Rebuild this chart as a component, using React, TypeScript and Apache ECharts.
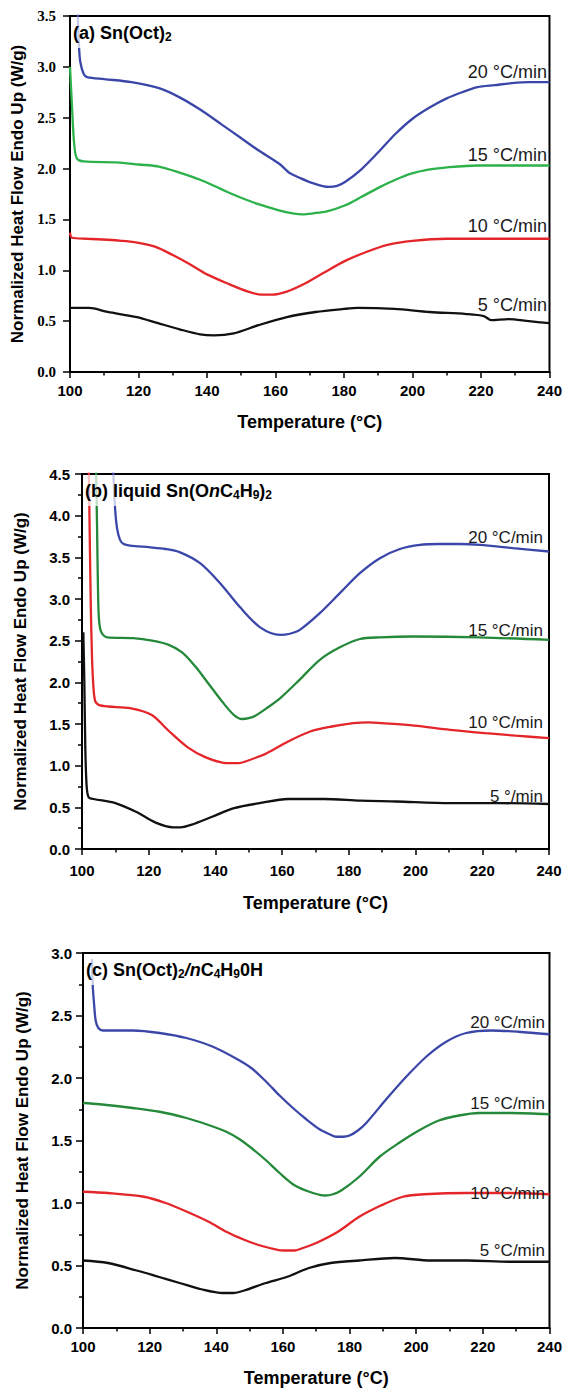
import React, { useEffect, useRef } from "react";
import * as echarts from "echarts";

// ---------- data (Temperature °C, Normalized heat flow W/g) ----------
const X_MIN = 100;
const X_MAX = 240;
const X_STEP = 20;
const Y_MAX_A = 3.5;
const Y_MAX_B = 4.5;
const Y_MAX_C = 3.0;
const Y_STEP = 0.5;

// (a) Sn(Oct)2
const A20 = [[102.2, 3.6], [102.6, 3.22], [103, 3.05], [104, 2.93], [105, 2.9], [110, 2.88], [118, 2.85], [126, 2.79], [132, 2.7], [138, 2.58], [144, 2.44], [149.5, 2.31], [155, 2.18], [161, 2.05], [163, 1.99], [164, 1.96], [167, 1.91], [170.6, 1.86], [175.5, 1.82], [178, 1.83], [180.4, 1.87], [185, 1.99], [190, 2.16], [195, 2.34], [200, 2.49], [205, 2.6], [210, 2.69], [214.5, 2.75], [219, 2.8], [224, 2.82], [229, 2.84], [234, 2.85], [240, 2.85]];
const A15 = [[100, 3.0], [100.6, 2.6], [101.2, 2.25], [102, 2.1], [104, 2.07], [113.6, 2.06], [120, 2.04], [126, 2.02], [132, 1.96], [138, 1.89], [144, 1.8], [149.4, 1.72], [155, 1.65], [161, 1.59], [165, 1.56], [168, 1.55], [171, 1.56], [175, 1.58], [180.4, 1.64], [185, 1.72], [190, 1.81], [195, 1.89], [199.6, 1.95], [204.6, 1.99], [209.5, 2.01], [219, 2.03], [240, 2.03]];
const A10 = [[100, 1.37], [100.6, 1.32], [105, 1.31], [111, 1.3], [115, 1.29], [120, 1.27], [125, 1.23], [130, 1.15], [135, 1.06], [140, 0.96], [146, 0.87], [152, 0.79], [156, 0.76], [159, 0.76], [163.3, 0.79], [168.6, 0.87], [173.8, 0.97], [180.2, 1.09], [186.5, 1.18], [192.7, 1.25], [200, 1.29], [210, 1.31], [225, 1.31], [240, 1.31]];
const A5 = [[100, 0.63], [105.6, 0.63], [111, 0.59], [119.5, 0.54], [125.7, 0.48], [132, 0.42], [138, 0.37], [142, 0.36], [147.8, 0.38], [155, 0.46], [163.3, 0.54], [171.7, 0.59], [180, 0.62], [184, 0.63], [194.7, 0.62], [205, 0.59], [215.7, 0.57], [220.8, 0.55], [223, 0.51], [228, 0.52], [234, 0.5], [240, 0.48]];

// (b) liquid Sn(OnC4H9)2
const B20 = [[109.3, 4.6], [109.9, 4.1], [110.5, 3.85], [111.4, 3.71], [112.5, 3.66], [114.4, 3.64], [120.4, 3.62], [125, 3.6], [129.4, 3.56], [135.4, 3.43], [141.4, 3.19], [147.4, 2.9], [153.4, 2.66], [159.4, 2.57], [162, 2.58], [165.3, 2.63], [171.3, 2.83], [177.3, 3.07], [183.3, 3.31], [189.3, 3.49], [195.3, 3.6], [201.3, 3.65], [207.3, 3.66], [213, 3.66], [219.3, 3.65], [229.2, 3.61], [240, 3.57]];
const B15 = [[104.2, 4.6], [104.5, 3.9], [104.8, 3.1], [105.1, 2.75], [105.8, 2.6], [107.5, 2.54], [115.3, 2.53], [121, 2.5], [126, 2.45], [130, 2.36], [134, 2.19], [138, 1.98], [142, 1.77], [145.5, 1.61], [148, 1.56], [150, 1.57], [152, 1.6], [155.4, 1.69], [159.7, 1.82], [165.2, 2.03], [171.3, 2.27], [177.3, 2.42], [183.3, 2.52], [189.3, 2.54], [199.2, 2.55], [219.3, 2.54], [240, 2.51]];
const B10 = [[102.0, 4.6], [102.2, 4.1], [102.6, 3.0], [103, 2.3], [103.5, 1.9], [104, 1.77], [105, 1.73], [107.8, 1.71], [114.4, 1.69], [120.8, 1.61], [126.2, 1.41], [131.7, 1.22], [137.1, 1.1], [143.6, 1.03], [147, 1.03], [149, 1.05], [155.4, 1.15], [161.8, 1.29], [168.4, 1.41], [174.9, 1.47], [181.3, 1.51], [186, 1.52], [189.9, 1.51], [199.6, 1.48], [210.3, 1.43], [221, 1.39], [230, 1.36], [240, 1.33]];
const B5 = [[100.4, 2.6], [100.7, 2.0], [101.0, 1.2], [101.4, 0.75], [102, 0.62], [103.5, 0.6], [110, 0.55], [116.5, 0.44], [121.9, 0.32], [127.3, 0.26], [129.5, 0.26], [132.7, 0.29], [139.2, 0.39], [145.6, 0.49], [153.2, 0.55], [161.8, 0.6], [172.6, 0.6], [183.4, 0.58], [194.2, 0.57], [210.3, 0.55], [225, 0.55], [240, 0.54]];

// (c) Sn(Oct)2/nC4H9OH
const C20 = [[102.7, 2.95], [102.9, 2.75], [103.3, 2.6], [103.8, 2.46], [104.6, 2.4], [106, 2.38], [115, 2.38], [123, 2.36], [131, 2.32], [139, 2.25], [147, 2.14], [151, 2.07], [155, 1.97], [159, 1.86], [163, 1.76], [167, 1.67], [171, 1.59], [174, 1.55], [176, 1.53], [178, 1.53], [180, 1.54], [182.5, 1.58], [185, 1.64], [191, 1.83], [197, 2.01], [203, 2.17], [209, 2.29], [215, 2.36], [222.6, 2.38], [230.7, 2.37], [240, 2.35]];
const C15 = [[100, 1.8], [105, 1.79], [115, 1.76], [123, 1.73], [131, 1.68], [137, 1.63], [143, 1.57], [147, 1.51], [151, 1.43], [155, 1.34], [159, 1.24], [163.6, 1.14], [169, 1.08], [172.7, 1.06], [175, 1.07], [177.5, 1.1], [182.9, 1.21], [189, 1.37], [194.8, 1.48], [200.8, 1.58], [206.8, 1.66], [212.8, 1.7], [218.8, 1.72], [228.6, 1.72], [240, 1.71]];
const C10 = [[100, 1.09], [107.5, 1.08], [118.3, 1.05], [124.8, 1.0], [131.2, 0.93], [137.7, 0.85], [143, 0.77], [148, 0.71], [152, 0.67], [156, 0.64], [160, 0.62], [163.6, 0.62], [166, 0.64], [170, 0.68], [176.5, 0.77], [182.9, 0.89], [189.4, 0.98], [196, 1.05], [202.4, 1.07], [215.4, 1.08], [228, 1.08], [240, 1.07]];
const C5 = [[100, 0.54], [107.5, 0.52], [116.1, 0.46], [122.6, 0.41], [129, 0.36], [135.5, 0.31], [141.9, 0.28], [145, 0.28], [148.4, 0.3], [154.9, 0.36], [161.3, 0.41], [167.8, 0.48], [174.3, 0.52], [182.9, 0.54], [193.6, 0.56], [204.4, 0.54], [215.4, 0.54], [228, 0.53], [240, 0.53]];

const LABELS_A = ["20 °C/min", "15 °C/min", "10 °C/min", "5 °C/min"];
const LABELS_B = ["20 °C/min", "15 °C/min", "10 °C/min", "5 °/min"];
const LABELS_C = ["20 °C/min", "15 °C/min", "10 °C/min", "5 °C/min"];

const X_NAME = "Temperature (°C)";
const Y_NAME = "Normalized Heat Flow Endo Up (W/g)";

// ---------- styling / layout ----------
const SANS = "'Liberation Sans', Arial, Helvetica, sans-serif";
const SERIF = "'Liberation Serif', 'Times New Roman', serif";
const BLUE = "#3a47a9";
const GREEN_A = "#2cb14b";
const GREEN = "#25893a";
const RED = "#e4252a";
const BLACK = "#111111";

const PANELS = [
  {
    grid: { left: 70, top: 16, width: 482, height: 356 },
    yMax: Y_MAX_A, yFont: SERIF, yMinor: false,
    xMargin: 11, xNameGap: 41, yMargin: 14, yNameGap: 39,
    series: [A20, A15, A10, A5], colors: [BLUE, GREEN_A, RED, BLACK],
    labels: LABELS_A, labelFont: 18, labelRight: 547, labelY: [72, 155, 226, 305],
  },
  {
    grid: { left: 82, top: 474, width: 467, height: 375 },
    yMax: Y_MAX_B, yFont: SANS, yMinor: true,
    xMargin: 14, xNameGap: 45, yMargin: 12, yNameGap: 53,
    series: [B20, B15, B10, B5], colors: [BLUE, GREEN, RED, BLACK],
    labels: LABELS_B, labelFont: 17, labelRight: 543, labelY: [537, 630, 722, 796],
  },
  {
    grid: { left: 83, top: 953, width: 468, height: 375 },
    yMax: Y_MAX_C, yFont: SANS, yMinor: true,
    xMargin: 11, xNameGap: 41, yMargin: 11, yNameGap: 52,
    series: [C20, C15, C10, C5], colors: [BLUE, GREEN, RED, BLACK],
    labels: LABELS_C, labelFont: 17, labelRight: 545, labelY: [1022, 1103, 1193, 1250],
  },
];

const T = { fontSize: 18, fontWeight: "bold", fontFamily: SANS, fill: "#000" };
const TI = { ...T, fontStyle: "italic" };
const S = { fontSize: 12, fontWeight: "bold", fontFamily: SANS, fill: "#000", padding: [9, 0, 0, 0] };

const TITLES = [
  "{t|(a) Sn(Oct)}{s|2}",
  "{t|(b) liquid Sn(O}{i|n}{t|C}{s|4}{t|H}{s|9}{t|)}{s|2}",
  "{t|(c) Sn(Oct)}{s|2}{i|/n}{t|C}{s|4}{t|H}{s|9}{t|0H}",
];

function buildOption() {
  const grid: any[] = [];
  const xAxis: any[] = [];
  const yAxis: any[] = [];
  const series: any[] = [];
  const graphic: any[] = [];

  PANELS.forEach((p, i) => {
    grid.push({
      ...p.grid,
      show: true,
      borderColor: "#000",
      borderWidth: 2,
      backgroundColor: "transparent",
      containLabel: false,
    });
    xAxis.push({
      gridIndex: i,
      type: "value",
      min: X_MIN,
      max: X_MAX,
      interval: X_STEP,
      axisLine: { show: true, onZero: false, lineStyle: { color: "#000", width: 2 } },
      axisTick: { show: true, inside: false, length: 6, lineStyle: { color: "#000", width: 1.5 } },
      minorTick: { show: true, splitNumber: 2, length: 3.5, lineStyle: { color: "#000", width: 1.5 } },
      splitLine: { show: false },
      minorSplitLine: { show: false },
      axisLabel: {
        margin: p.xMargin,
        fontSize: 15,
        fontWeight: "bold",
        fontFamily: SANS,
        color: "#000",
      },
      name: X_NAME,
      nameLocation: "middle",
      nameGap: p.xNameGap,
      nameTextStyle: { fontSize: 18, fontWeight: "bold", fontFamily: SANS, color: "#000" },
    });
    yAxis.push({
      gridIndex: i,
      type: "value",
      min: 0,
      max: p.yMax,
      interval: Y_STEP,
      axisLine: { show: true, onZero: false, lineStyle: { color: "#000", width: 2 } },
      axisTick: { show: true, inside: false, length: 7, lineStyle: { color: "#000", width: 1.5 } },
      minorTick: { show: p.yMinor, splitNumber: 2, length: 4, lineStyle: { color: "#000", width: 1.5 } },
      splitLine: { show: false },
      minorSplitLine: { show: false },
      axisLabel: {
        margin: p.yMargin,
        fontSize: 15,
        fontWeight: "bold",
        fontFamily: p.yFont,
        color: "#000",
        formatter: (v: number) => v.toFixed(1),
      },
      name: Y_NAME,
      nameLocation: "middle",
      nameGap: p.yNameGap,
      nameTextStyle: { fontSize: 17, fontWeight: "bold", fontFamily: SANS, color: "#000" },
    });
    p.series.forEach((d, k) => {
      series.push({
        type: "line",
        xAxisIndex: i,
        yAxisIndex: i,
        data: d,
        showSymbol: false,
        symbol: "none",
        smooth: 0.3,
        clip: true,
        lineStyle: { color: p.colors[k], width: 2.3 },
        z: 3,
      });
    });
    p.labels.forEach((txt, k) => {
      graphic.push({
        type: "text",
        x: p.labelRight,
        y: p.labelY[k],
        z: 50,
        style: {
          text: txt,
          font: `${p.labelFont}px ${SANS}`,
          fontSize: p.labelFont,
          fontFamily: SANS,
          fill: "#1a1a1a",
          textAlign: "right",
          align: "right",
          textVerticalAlign: "middle",
          verticalAlign: "middle",
        },
      });
    });
    graphic.push({
      type: "text",
      x: p.grid.left + 1,
      y: p.grid.top + 1,
      z: 60,
      style: {
        text: TITLES[i],
        rich: { t: T, i: TI, s: S },
        textAlign: "left",
        align: "left",
        textVerticalAlign: "top",
        verticalAlign: "top",
        backgroundColor: "rgba(255,255,255,0.72)",
        padding: [5, 4, 5, 2],
      },
    });
  });

  return {
    animation: false,
    backgroundColor: "#ffffff",
    grid,
    xAxis,
    yAxis,
    series,
    graphic,
  };
}

export default function App() {
  const ref = useRef<HTMLDivElement>(null);
  useEffect(() => {
    if (!ref.current) return;
    const chart = echarts.init(ref.current, null, { renderer: "svg" });
    chart.setOption(buildOption() as any);
    return () => chart.dispose();
  }, []);
  return (
    <div
      ref={ref}
      style={{ position: "absolute", left: 0, top: 0, width: 565, height: 1390, background: "#fff" }}
    />
  );
}
